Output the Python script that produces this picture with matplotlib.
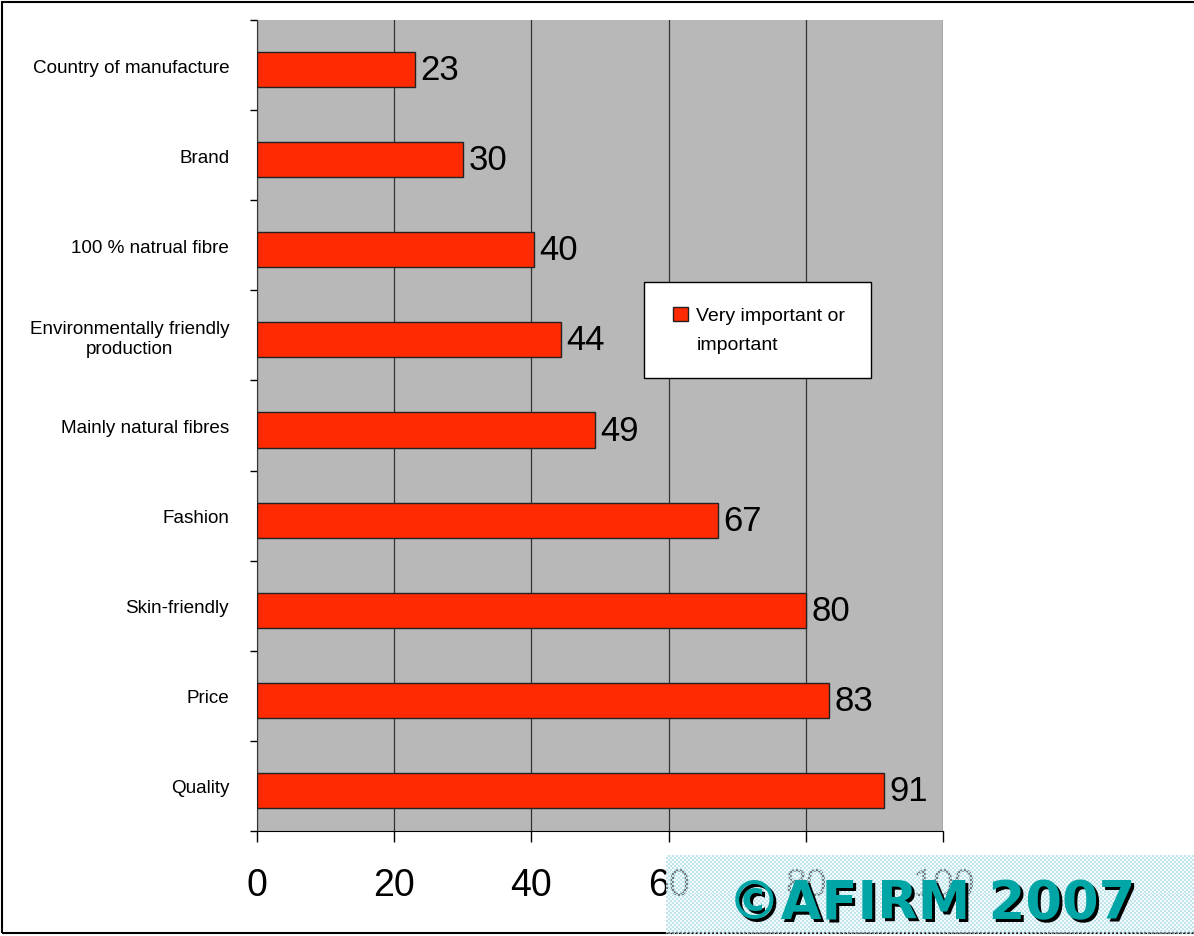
import numpy as np
import matplotlib.pyplot as plt
from matplotlib.patches import Rectangle
from matplotlib.container import BarContainer
from matplotlib.legend_handler import HandlerPatch, update_from_first_child

# Data
categories = ["Country of manufacture", "Brand", "100 % natrual fibre",
              "Environmentally friendly\nproduction", "Mainly natural fibres",
              "Fashion", "Skin-friendly", "Price", "Quality"]
values = [23, 30, 40.4, 44.3, 49.2, 67.2, 80, 83.4, 91.4]
value_labels = ["23", "30", "40", "44", "49", "67", "80", "83", "91"]
xticks = [0, 20, 40, 60, 80, 100]
series_name = "Very important or\nimportant"

plt.rcParams['font.family'] = ['Liberation Sans', 'DejaVu Sans']

W, H = 1194, 937
fig = plt.figure(figsize=(W / 100, H / 100), dpi=100)
ax = fig.add_axes([257 / W, 1 - 832 / H, (943 - 257) / W, (832 - 21) / H])

ypos = np.arange(len(categories))
bars = ax.barh(ypos + 0.05, values, height=0.39, color='#FF2A00',
               edgecolor='#222222', linewidth=1.0, zorder=3, label=series_name)
ax.bar_label(bars, labels=value_labels, padding=4, fontsize=25, zorder=4)

ax.set_facecolor('#B8B8B8')
ax.set_xlim(0, 100)
ax.set_ylim(len(categories) - 0.5, -0.5)
ax.set_xticks(xticks)
ax.set_xticklabels([str(t) for t in xticks], fontsize=27)
ax.tick_params(axis='x', direction='out', length=8, width=1, pad=18)
ax.xaxis.grid(True, color='#333333', linewidth=0.9, zorder=1)
ax.set_axisbelow(True)

ax.set_yticks(ypos)
ax.set_yticklabels(categories, fontsize=13.6, multialignment='center')
ax.set_yticks(np.arange(len(categories) + 1) - 0.5, minor=True)
ax.tick_params(axis='y', which='major', length=0, pad=20)
ax.tick_params(axis='y', which='minor', direction='out', length=5, width=1)

for s in ['top', 'right']:
    ax.spines[s].set_visible(False)
ax.spines['left'].set_color('#333333')
ax.spines['bottom'].set_color('black')


def first_line_square(legend, orig_handle, xdescent, ydescent, width, height, fontsize):
    # put the legend square next to the first line of the label
    return Rectangle((-xdescent + 3, -ydescent + 11.5), width - 3, height)


leg = ax.legend(loc='upper left', bbox_to_anchor=(644 / W, 1 - 283 / H),
                bbox_transform=fig.transFigure, fontsize=14, frameon=True,
                fancybox=False, framealpha=1, edgecolor='black',
                handlelength=0.95, handleheight=0.72, handletextpad=0.45,
                borderpad=1.3, borderaxespad=0,
                handler_map={BarContainer: HandlerPatch(patch_func=first_line_square,
                                                        update_func=update_from_first_child)})
leg.get_frame().set_linewidth(1.0)
for t in leg.get_texts():
    t.set_linespacing(1.9)
leg.set_zorder(6)

# outer chart border
fig.patches.append(Rectangle((2 / W, 1 - 934 / H), 1.1, (934 - 3) / H,
                             transform=fig.transFigure, fill=False,
                             edgecolor='black', linewidth=1.5, zorder=0))

# watermark box
wax = fig.add_axes([666 / W, 1 - 935 / H, (W - 666) / W, (935 - 856) / H], zorder=10)
ny, nx = 40, 264
checker = (np.add.outer(np.arange(ny), np.arange(nx)) % 2).astype(float)
rgba = np.zeros((ny, nx, 4))
rgba[..., :3] = [0.76, 0.90, 0.93]
rgba[..., 3] = np.where(checker > 0, 1.0, 0.5)
rgba[checker == 0, :3] = [0.92, 0.97, 0.98]
wax.imshow(rgba, aspect='auto', interpolation='nearest', extent=(0, 1, 0, 1))
wax.set_xlim(0, 1)
wax.set_ylim(0, 1)
wax.axis('off')
wax.plot([0, 1], [0.01, 0.01], color='black', linestyle=(0, (1, 2)), linewidth=1)
tx, ty = (730 + 1133) / 2 / W, 1 - 904 / H
for dx, dy, c in [(3, -3, 'black'), (0, 0, '#00A5A5')]:
    fig.text(tx + dx / W, ty + dy / H, "©AFIRM 2007", fontsize=38,
             fontweight='bold', family='DejaVu Sans', color=c,
             ha='center', va='center', zorder=11)

fig.savefig('out.png', dpi=100)
